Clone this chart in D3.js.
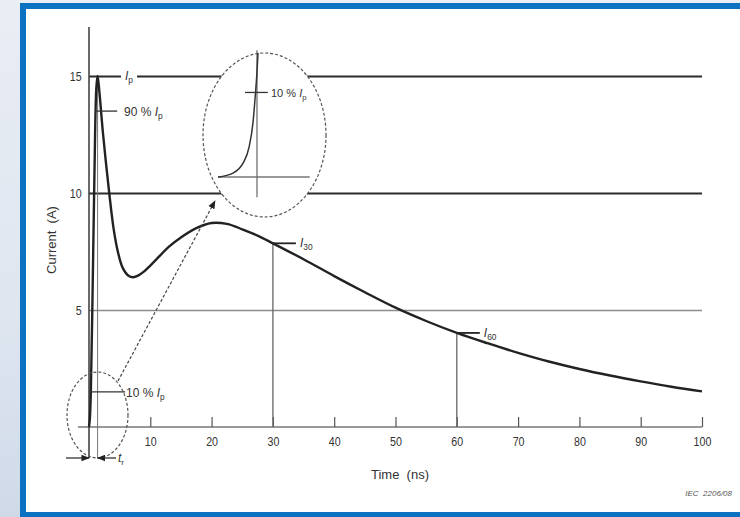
<!DOCTYPE html>
<html>
<head>
<meta charset="utf-8">
<script src="https://cdn.jsdelivr.net/npm/d3@7"></script>
<style>
body{margin:0;background:#e3e9f1;}
svg{display:block;font-family:"Liberation Sans",Arial,sans-serif;}
</style>
</head>
<body>
<div id="plot"></div>
<script>
// ESD current waveform
var timeNs = [0, 0.15, 0.3, 0.6, 0.9, 1.2, 1.4, 1.7, 2.3, 3.3, 4.0, 4.7, 5.5, 6.5, 7.2, 8, 9, 10, 11.5, 13, 15, 17.5, 20, 22.5, 25, 27.5, 30, 35, 40, 45, 50, 55, 60, 65, 70, 75, 80, 85, 90, 95, 100];
var currentA = [0, 0.4, 1.5, 6, 11, 14.5, 15, 14.3, 12.5, 10, 8.5, 7.5, 6.8, 6.45, 6.4, 6.47, 6.65, 6.9, 7.3, 7.7, 8.1, 8.5, 8.72, 8.68, 8.45, 8.18, 7.85, 7.17, 6.45, 5.76, 5.1, 4.53, 4.02, 3.58, 3.17, 2.8, 2.48, 2.2, 1.95, 1.72, 1.52];

// magnified foot of the rise (inset)
var insetTime = [-0.65, -0.4, -0.23, -0.13, -0.067, -0.033, 0, 0.017];
var insetCurrent = [0, 0.07, 0.25, 0.54, 0.96, 1.38, 1.86, 2.2];

var yTicks = [5, 10, 15];
var xTicks = [10, 20, 30, 40, 50, 60, 70, 80, 90, 100];
var peakCurrent = 15, peakTime = 1.4;
var markTimes = [30, 60], markNames = ['30', '60'];

var W = 740, H = 517;
var svg = d3.select('#plot').append('svg').attr('width', W).attr('height', H);

// page background + frame
var defs = svg.append('defs');
var bg = defs.append('linearGradient').attr('id', 'bg').attr('x1', 0).attr('y1', 0).attr('x2', 0).attr('y2', 1);
bg.append('stop').attr('offset', '0%').attr('stop-color', '#e9edf4');
bg.append('stop').attr('offset', '60%').attr('stop-color', '#dfe6f0');
bg.append('stop').attr('offset', '100%').attr('stop-color', '#cfd9e8');
svg.append('rect').attr('width', W).attr('height', H).attr('fill', 'url(#bg)');
svg.append('rect').attr('x', 20).attr('y', 3).attr('width', 740).attr('height', 514).attr('fill', '#0b71c1');
svg.append('rect').attr('x', 26).attr('y', 9).attr('width', 740).attr('height', 503).attr('fill', '#fff');

defs.append('marker').attr('id', 'arr').attr('viewBox', '0 0 10 10').attr('refX', 9).attr('refY', 5)
    .attr('markerWidth', 7).attr('markerHeight', 7).attr('orient', 'auto-start-reverse')
    .append('path').attr('d', 'M0,1 L10,5 L0,9 Z').attr('fill', '#222');

var x = d3.scaleLinear().domain([0, 100]).range([89, 702]);
var y = d3.scaleLinear().domain([0, 15]).range([427, 76]);

// horizontal grid lines + y labels
var gy = svg.append('g').attr('transform', 'translate(89,0)')
    .call(d3.axisLeft(y).tickValues(yTicks).tickSize(-(x(100) - x(0))).tickPadding(9));
gy.select('.domain').remove();
gy.selectAll('.tick line')
    .attr('stroke', function(d) { return d === 5 ? '#8c8c8c' : '#2b2b2b'; })
    .attr('stroke-width', function(d) { return d === 5 ? 1.6 : 1.8; });
gy.selectAll('.tick text').attr('font-size', 13).attr('fill', '#333').attr('font-family', 'Liberation Sans')
    .attr('transform', 'scale(0.82,1)');

// x axis, ticks pointing up
var gx = svg.append('g').attr('transform', 'translate(0,' + y(0) + ')')
    .call(d3.axisBottom(x).tickValues(xTicks).tickSizeInner(-10).tickSizeOuter(0).tickPadding(10));
gx.select('.domain').attr('stroke', '#777').attr('stroke-width', 1.6).attr('d', 'M' + (x(0) - 11) + ',0H' + x(100));
gx.selectAll('.tick line').attr('stroke', '#555').attr('stroke-width', 1.2);
gx.selectAll('.tick text').attr('font-size', 13).attr('fill', '#333').attr('font-family', 'Liberation Sans')
    .attr('transform', 'scale(0.82,1)');

// y axis line, extended below zero for the rise time mark
svg.append('line').attr('x1', x(0)).attr('x2', x(0)).attr('y1', 27).attr('y2', 458)
    .attr('stroke', '#444').attr('stroke-width', 1.6);
svg.append('line').attr('x1', x(peakTime)).attr('x2', x(peakTime)).attr('y1', y(peakCurrent)).attr('y2', 458)
    .attr('stroke', '#777').attr('stroke-width', 1);

// I30 / I60 drop lines
markTimes.forEach(function(t) {
    var i = timeNs.indexOf(t);
    svg.append('line').attr('x1', x(t)).attr('x2', x(t)).attr('y1', y(currentA[i])).attr('y2', y(0))
        .attr('stroke', '#666').attr('stroke-width', 1.3);
});

// waveform
var pts = timeNs.map(function(t, i) { return [t, currentA[i]]; });
var line = d3.line().x(function(d) { return x(d[0]); }).y(function(d) { return y(d[1]); })
    .curve(d3.curveCatmullRom.alpha(0.5));
svg.append('path').datum(pts).attr('d', line).attr('fill', 'none').attr('stroke', '#222')
    .attr('stroke-width', 2.4).attr('stroke-linejoin', 'round');

function subLabel(px, py, sub, pre, size) {
    var t = svg.append('text').attr('x', px).attr('y', py).attr('font-size', size || 12).attr('fill', '#333')
        .attr('xml:space', 'preserve');
    if (pre) t.append('tspan').text(pre);
    t.append('tspan').attr('font-style', 'italic').text('I');
    t.append('tspan').attr('font-size', (size || 12) * 0.7).attr('dy', 3).text(sub);
    return t;
}

// Ip label with gap in the 15 A line
svg.append('rect').attr('x', 121).attr('y', y(15) - 3).attr('width', 16).attr('height', 6).attr('fill', '#fff');
subLabel(125, y(15) + 4, 'p');

// 90 % Ip
svg.append('line').attr('x1', x(1.0)).attr('x2', x(4.6)).attr('y1', y(0.9 * peakCurrent)).attr('y2', y(0.9 * peakCurrent))
    .attr('stroke', '#333').attr('stroke-width', 1.3);
subLabel(124, y(0.9 * peakCurrent) + 5, 'p', '90 % ');

// 10 % Ip on main chart
svg.append('line').attr('x1', x(0)).attr('x2', x(5.9)).attr('y1', y(0.1 * peakCurrent)).attr('y2', y(0.1 * peakCurrent))
    .attr('stroke', '#333').attr('stroke-width', 1.3);
subLabel(126, y(0.1 * peakCurrent) + 5, 'p', '10 % ');

// I30, I60 marks
markTimes.forEach(function(t, k) {
    var i = timeNs.indexOf(t), py = y(currentA[i]);
    svg.append('line').attr('x1', x(t)).attr('x2', x(t) + 23).attr('y1', py).attr('y2', py)
        .attr('stroke', '#222').attr('stroke-width', 1.8);
    subLabel(x(t) + 27, py + 4, markNames[k]);
});

// small dashed ellipse round the foot
svg.append('ellipse').attr('cx', 97.5).attr('cy', 415).attr('rx', 30.5).attr('ry', 43)
    .attr('fill', 'none').attr('stroke', '#555').attr('stroke-width', 1.2).attr('stroke-dasharray', '3,2');

// rise time arrows
svg.append('line').attr('x1', 66).attr('x2', x(0)).attr('y1', 458).attr('y2', 458)
    .attr('stroke', '#222').attr('stroke-width', 1.2).attr('marker-end', 'url(#arr)');
svg.append('line').attr('x1', 116).attr('x2', x(peakTime)).attr('y1', 458).attr('y2', 458)
    .attr('stroke', '#222').attr('stroke-width', 1.2).attr('marker-end', 'url(#arr)');
var tr = svg.append('text').attr('x', 118).attr('y', 462).attr('font-size', 12).attr('fill', '#333');
tr.append('tspan').attr('font-style', 'italic').text('t');
tr.append('tspan').attr('font-size', 8).attr('dy', 3).text('r');

// magnified inset
svg.append('ellipse').attr('cx', 264.5).attr('cy', 135).attr('rx', 61.5).attr('ry', 82)
    .attr('fill', '#fff').attr('stroke', '#555').attr('stroke-width', 1.2).attr('stroke-dasharray', '3,2');
var ix = d3.scaleLinear().domain([-0.65, 0.017]).range([218, 258]);
var iy = d3.scaleLinear().domain([0, 2.2]).range([177, 53]);
svg.append('line').attr('x1', ix(-0.65)).attr('x2', ix(0.88)).attr('y1', iy(0)).attr('y2', iy(0))
    .attr('stroke', '#777').attr('stroke-width', 1.3);
svg.append('line').attr('x1', ix(0)).attr('x2', ix(0)).attr('y1', iy(2.25)).attr('y2', iy(-0.36))
    .attr('stroke', '#666').attr('stroke-width', 1.2);
var ipts = insetTime.map(function(t, i) { return [t, insetCurrent[i]]; });
svg.append('path').datum(ipts)
    .attr('d', d3.line().x(function(d) { return ix(d[0]); }).y(function(d) { return iy(d[1]); }).curve(d3.curveMonotoneX))
    .attr('fill', 'none').attr('stroke', '#333').attr('stroke-width', 1.5);
svg.append('line').attr('x1', ix(-0.2)).attr('x2', ix(0.18)).attr('y1', iy(1.5)).attr('y2', iy(1.5))
    .attr('stroke', '#333').attr('stroke-width', 1.3);
subLabel(271, iy(1.5) + 5, 'p', '10 % ', 11);

// dashed arrow from small to big ellipse
svg.append('line').attr('x1', 118).attr('y1', 381).attr('x2', 215).attr('y2', 201)
    .attr('stroke', '#444').attr('stroke-width', 1.2).attr('stroke-dasharray', '3,2').attr('marker-end', 'url(#arr)');

// axis titles
svg.append('text').attr('x', 400).attr('y', 479).attr('text-anchor', 'middle').attr('font-size', 13)
    .attr('fill', '#333').attr('xml:space', 'preserve').text('Time  (ns)');
svg.append('text').attr('transform', 'translate(56,240) rotate(-90)').attr('text-anchor', 'middle').attr('font-size', 13)
    .attr('fill', '#333').attr('xml:space', 'preserve').text('Current  (A)');
svg.append('text').attr('x', 732).attr('y', 496).attr('text-anchor', 'end').attr('font-size', 8)
    .attr('font-style', 'italic').attr('fill', '#555').attr('xml:space', 'preserve').text('IEC  2206/08');
</script>
</body>
</html>
